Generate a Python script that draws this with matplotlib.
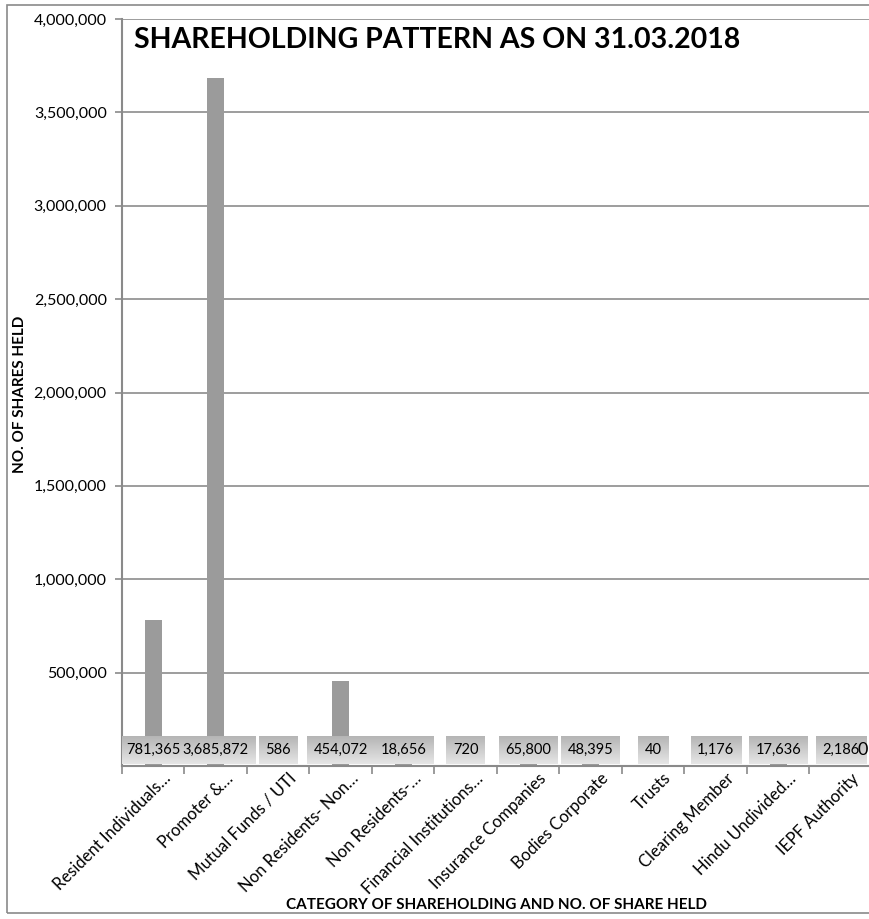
import numpy as np
import matplotlib.pyplot as plt
from matplotlib.patches import Rectangle
from matplotlib.transforms import ScaledTranslation

plt.rcParams['font.family'] = ['Lato', 'DejaVu Sans']

# category names as shown (Excel truncated the long ones)
categories = ["Resident Individuals…", "Promoter &…", "Mutual Funds / UTI",
              "Non Residents- Non…", "Non Residents-…", "Financial Institutions…",
              "Insurance Companies", "Bodies Corporate", "Trusts",
              "Clearing Member", "Hindu Undivided…", "IEPF Authority"]
shares = [781365, 3685872, 586, 454072, 18656, 720,
          65800, 48395, 40, 1176, 17636, 2186]
y_ticks = [500000, 1000000, 1500000, 2000000, 2500000, 3000000, 3500000, 4000000]

fig = plt.figure(figsize=(8.7, 9.19), dpi=100)
ax = fig.add_axes([122 / 870, 1 - 766 / 919, 750 / 870, 747 / 919])

# outer chart border (right side runs off the picture)
fig.patches.append(Rectangle((7 / 870, 1 - 913 / 919), 1.2, 908 / 919,
                             transform=fig.transFigure, fill=False,
                             ec='#8a8a8a', lw=1.2, clip_on=False))

x = np.arange(len(categories)) + 0.5
ax.bar(x, shares, width=0.27, color='#9b9b9b', zorder=2)

ax.set_xlim(0, len(categories))
ax.set_ylim(0, 4000000)
ax.set_yticks(y_ticks)
ax.set_yticklabels([f"{v:,}" for v in y_ticks], fontsize=11.5)
ax.yaxis.grid(True, color='#8c8c8c', lw=1.2, zorder=0)
ax.tick_params(axis='y', length=5, color='#8a8a8a', width=1.2, pad=6)

ax.set_xticks(np.arange(len(categories) + 1))
ax.set_xticklabels([])
ax.set_xticks(x, minor=True)
ax.set_xticklabels(categories, minor=True, rotation=45, ha='right',
                   rotation_mode='anchor', fontsize=12)
ax.tick_params(axis='x', which='major', length=6, color='#8a8a8a', width=1.2)
ax.tick_params(axis='x', which='minor', length=0, pad=3)
shift = ScaledTranslation(7 / 72, 0, fig.dpi_scale_trans)
for lbl in ax.get_xticklabels(minor=True):
    lbl.set_transform(lbl.get_transform() + shift)

for s in ['top', 'right']:
    ax.spines[s].set_visible(False)
for s in ['left', 'bottom']:
    ax.spines[s].set_color('#8a8a8a')
    ax.spines[s].set_linewidth(1.5)

# value labels sitting on the axis
labels = []
for xi, v in zip(x, shares):
    a = ax.annotate(f"{v:,}", xy=(xi, 0), xytext=(0, 11.5), textcoords='offset points',
                    ha='center', va='center', fontsize=10.5, zorder=5,
                    bbox=dict(boxstyle='square,pad=0.45', fc='none', ec='none'))
    labels.append(a)
ax.annotate("0", xy=(len(categories), 0), xytext=(-6.5, 11.5), textcoords='offset points',
            ha='center', va='center', fontsize=13, zorder=6)

fig.text(437 / 870, 1 - 40 / 919, "SHAREHOLDING PATTERN AS ON 31.03.2018",
         ha='center', va='center', fontsize=20.5, fontweight='bold')
fig.text(20 / 870, 1 - 394 / 919, "NO. OF SHARES HELD", rotation=90,
         ha='center', va='center', fontsize=11, fontweight='bold')
fig.text(497 / 870, 1 - 905 / 919, "CATEGORY OF SHAREHOLDING AND NO. OF SHARE HELD",
         ha='center', va='center', fontsize=11, fontweight='bold')

# grey gradient fill behind each value label
fig.canvas.draw()
r = fig.canvas.get_renderer()
top, bot = np.array([0.71, 0.71, 0.71]), np.array([0.90, 0.90, 0.90])
grad = np.linspace(top, bot, 32)[:, None, :]
inv = ax.transData.inverted()
for a in labels:
    bb = a.get_bbox_patch().get_window_extent(r)
    (x0, y0), (x1, y1) = inv.transform([[bb.x0, bb.y0], [bb.x1, bb.y1]])
    ax.imshow(grad, extent=[x0, x1, y0, y1], aspect='auto', zorder=4,
              interpolation='bilinear')
ax.set_xlim(0, len(categories))
ax.set_ylim(0, 4000000)

fig.savefig('out.png', dpi=100)
